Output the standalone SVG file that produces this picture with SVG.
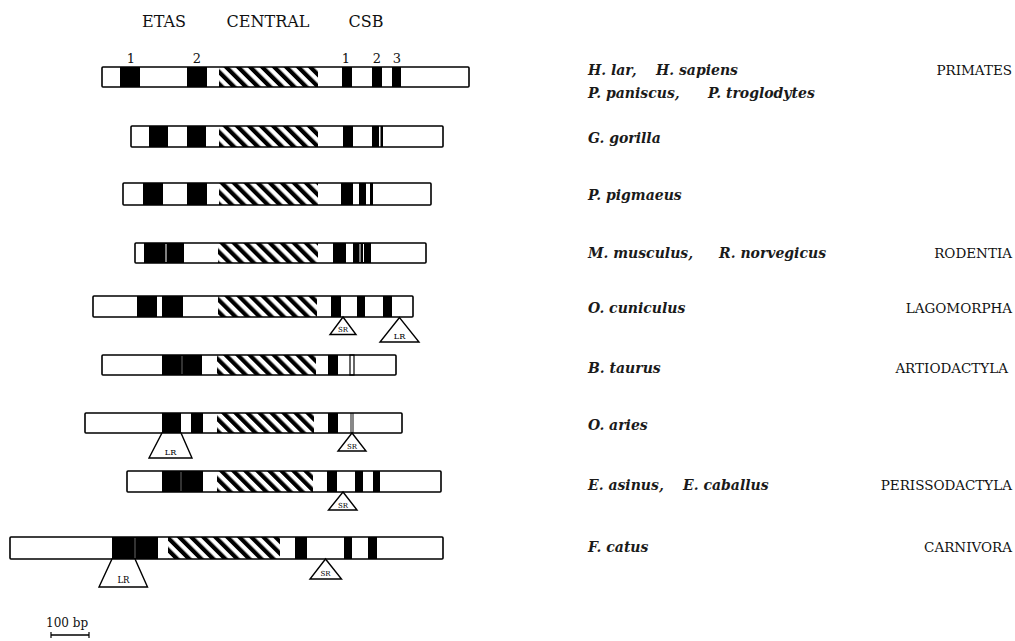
<svg xmlns="http://www.w3.org/2000/svg" width="1015" height="641" viewBox="0 0 1015 641">
  <defs>
    <pattern id="hatch" patternUnits="userSpaceOnUse" width="8.5" height="8.5" patternTransform="rotate(-45)">
      <rect x="0" y="0" width="4.2" height="8.5" fill="#000"/>
    </pattern>
    <style>
      .bar { fill: none; stroke: #000; stroke-width: 1.6; }
      .bg { fill: #fff; }
      .blk { fill: #000; }
      .cen { fill: url(#hatch); }
      .gap { stroke: #fff; stroke-width: 1; }
      .thin { fill: none; stroke: #000; stroke-width: 1.2; }
      .ins { fill: #fff; stroke: #000; stroke-width: 1.4; }
      .ilab { font-family: "DejaVu Serif", "Liberation Serif", serif; fill: #000; text-anchor: middle; }
      .hdr { font-family: "DejaVu Serif", "Liberation Serif", serif; font-size: 16px; fill: #111; text-anchor: middle; }
      .num { font-family: "DejaVu Serif", "Liberation Serif", serif; font-size: 13px; fill: #111; text-anchor: middle; }
      .sp { font-family: "DejaVu Serif", "Liberation Serif", serif; font-size: 14px; font-style: italic; font-weight: bold; fill: #1a1a1a; }
      .ord { font-family: "DejaVu Serif", "Liberation Serif", serif; font-size: 13.5px; fill: #111; text-anchor: end; }
    </style>
  </defs>

  <rect width="1015" height="641" fill="#fff"/>

  <!-- column headers -->
  <g id="headers">
    <text class="hdr" x="164" y="27">ETAS</text>
    <text class="hdr" x="268" y="27">CENTRAL</text>
    <text class="hdr" x="366" y="27">CSB</text>
  </g>

  <!-- primates -->
  <g id="bar-primates">
    <text class="num" x="131" y="63">1</text>
    <text class="num" x="197" y="63">2</text>
    <text class="num" x="346" y="63">1</text>
    <text class="num" x="377" y="63">2</text>
    <text class="num" x="397" y="63">3</text>
    <rect class="bg" x="102" y="67" width="367" height="20"/>
    <rect class="blk" x="120" y="67" width="20" height="20"/>
    <rect class="blk" x="187" y="67" width="20" height="20"/>
    <rect class="cen" x="219" y="67" width="99" height="20"/>
    <rect class="blk" x="342" y="67" width="10" height="20"/>
    <rect class="blk" x="372" y="67" width="10" height="20"/>
    <rect class="blk" x="392" y="67" width="9" height="20"/>
    <rect class="bar" x="102" y="67" width="367" height="20" rx="1"/>
  </g>

  <!-- G. gorilla -->
  <g id="bar-gorilla">
    <rect class="bg" x="131" y="126" width="312" height="21"/>
    <rect class="blk" x="149" y="126" width="19" height="21"/>
    <rect class="blk" x="187" y="126" width="19" height="21"/>
    <rect class="cen" x="219" y="126" width="99" height="21"/>
    <rect class="blk" x="343" y="126" width="10" height="21"/>
    <rect class="blk" x="372" y="126" width="7" height="21"/>
    <rect class="blk" x="380.5" y="126" width="2.5" height="21"/>
    <rect class="bar" x="131" y="126" width="312" height="21" rx="1"/>
  </g>

  <!-- P. pigmaeus -->
  <g id="bar-pigmaeus">
    <rect class="bg" x="123" y="183" width="308" height="22"/>
    <rect class="blk" x="143" y="183" width="20" height="22"/>
    <rect class="blk" x="187" y="183" width="20" height="22"/>
    <rect class="cen" x="219" y="183" width="99" height="22"/>
    <rect class="blk" x="341" y="183" width="12" height="22"/>
    <rect class="blk" x="359" y="183" width="7" height="22"/>
    <rect class="blk" x="370" y="183" width="3" height="22"/>
    <rect class="bar" x="123" y="183" width="308" height="22" rx="1"/>
  </g>

  <!-- rodentia -->
  <g id="bar-rodentia">
    <rect class="bg" x="135" y="243" width="291" height="20"/>
    <rect class="blk" x="144" y="243" width="40" height="20"/>
    <line class="gap" x1="166" y1="244" x2="166" y2="262"/>
    <rect class="cen" x="218" y="243" width="100" height="20"/>
    <rect class="blk" x="333" y="243" width="13" height="20"/>
    <rect class="blk" x="353" y="243" width="18" height="20"/>
    <line class="gap" x1="360" y1="244" x2="360" y2="262"/>
    <line class="gap" x1="363.5" y1="244" x2="363.5" y2="262"/>
    <rect class="bar" x="135" y="243" width="291" height="20" rx="1"/>
  </g>

  <!-- O. cuniculus -->
  <g id="bar-cuniculus">
    <rect class="bg" x="93" y="296" width="320" height="21"/>
    <rect class="blk" x="137" y="296" width="20" height="21"/>
    <rect class="blk" x="162" y="296" width="21" height="21"/>
    <rect class="cen" x="218" y="296" width="99" height="21"/>
    <rect class="blk" x="331" y="296" width="10" height="21"/>
    <rect class="blk" x="357" y="296" width="8" height="21"/>
    <rect class="blk" x="383" y="296" width="9" height="21"/>
    <rect class="bar" x="93" y="296" width="320" height="21" rx="1"/>
    <polygon class="ins" points="343,317 330,334.5 356,334.5"/>
    <text class="ilab" x="343" y="332" font-size="7">SR</text>
    <polygon class="ins" points="399.5,317.5 380,342 419,342"/>
    <text class="ilab" x="399.5" y="339" font-size="8">LR</text>
  </g>

  <!-- B. taurus -->
  <g id="bar-taurus">
    <rect class="bg" x="102" y="355" width="294" height="20"/>
    <rect class="blk" x="162" y="355" width="40" height="20"/>
    <line x1="182" y1="356" x2="182" y2="374" stroke="#666" stroke-width="1"/>
    <rect class="cen" x="217" y="355" width="99" height="20"/>
    <rect class="blk" x="328" y="355" width="10" height="20"/>
    <rect class="thin" x="350" y="355" width="4" height="20"/>
    <rect class="bar" x="102" y="355" width="294" height="20" rx="1"/>
  </g>

  <!-- O. aries -->
  <g id="bar-aries">
    <rect class="bg" x="85" y="413" width="317" height="20"/>
    <rect class="blk" x="162" y="413" width="19" height="20"/>
    <rect class="blk" x="191" y="413" width="12" height="20"/>
    <rect class="cen" x="217" y="413" width="97" height="20"/>
    <rect class="blk" x="328" y="413" width="10" height="20"/>
    <rect x="350" y="413" width="4" height="20" fill="#888"/>
    <rect class="bar" x="85" y="413" width="317" height="20" rx="1"/>
    <polygon class="ins" points="162,433 181,433 192,458 149,458"/>
    <text class="ilab" x="170.5" y="455" font-size="8">LR</text>
    <polygon class="ins" points="352,433 338,451 366,451"/>
    <text class="ilab" x="352" y="448.5" font-size="7">SR</text>
  </g>

  <!-- E. asinus / E. caballus -->
  <g id="bar-equus">
    <rect class="bg" x="127" y="471" width="314" height="21"/>
    <rect class="blk" x="162" y="471" width="41" height="21"/>
    <line x1="181" y1="472" x2="181" y2="491" stroke="#666" stroke-width="1"/>
    <rect class="cen" x="217" y="471" width="96" height="21"/>
    <rect class="blk" x="327" y="471" width="10" height="21"/>
    <rect class="blk" x="355" y="471" width="8" height="21"/>
    <rect class="blk" x="373" y="471" width="7" height="21"/>
    <rect class="bar" x="127" y="471" width="314" height="21" rx="1"/>
    <polygon class="ins" points="343,492 328.5,510 357,510"/>
    <text class="ilab" x="343" y="507.5" font-size="7">SR</text>
  </g>

  <!-- F. catus -->
  <g id="bar-catus">
    <rect class="bg" x="10" y="537" width="433" height="22"/>
    <rect class="blk" x="112" y="537" width="46" height="22"/>
    <line x1="135" y1="538" x2="135" y2="558" stroke="#666" stroke-width="1"/>
    <rect class="cen" x="168" y="537" width="112" height="22"/>
    <rect class="blk" x="295" y="537" width="12" height="22"/>
    <rect class="blk" x="344" y="537" width="8" height="22"/>
    <rect class="blk" x="368" y="537" width="9" height="22"/>
    <rect class="bar" x="10" y="537" width="433" height="22" rx="1"/>
    <polygon class="ins" points="112,559 135,559 147.5,587 99,587"/>
    <text class="ilab" x="123.5" y="583" font-size="8.5">LR</text>
    <polygon class="ins" points="325.5,559 310,579 341.5,579"/>
    <text class="ilab" x="325.5" y="576" font-size="7">SR</text>
  </g>

  <!-- scale bar -->
  <g id="scale">
    <text x="46" y="627" font-family="DejaVu Serif, Liberation Serif, serif" font-size="12" fill="#111">100 bp</text>
    <line x1="51" y1="635" x2="89" y2="635" stroke="#000" stroke-width="1.5"/>
    <line x1="51" y1="632" x2="51" y2="638" stroke="#000" stroke-width="1.2"/>
    <line x1="89" y1="632" x2="89" y2="638" stroke="#000" stroke-width="1.2"/>
  </g>

  <!-- species names -->
  <g id="species">
    <text class="sp" x="588" y="75">H. lar,</text>
    <text class="sp" x="656" y="75">H. sapiens</text>
    <text class="sp" x="588" y="98">P. paniscus,</text>
    <text class="sp" x="708" y="98">P. troglodytes</text>
    <text class="sp" x="588" y="143">G. gorilla</text>
    <text class="sp" x="588" y="200">P. pigmaeus</text>
    <text class="sp" x="588" y="258">M. musculus,</text>
    <text class="sp" x="719" y="258">R. norvegicus</text>
    <text class="sp" x="588" y="313">O. cuniculus</text>
    <text class="sp" x="588" y="373">B. taurus</text>
    <text class="sp" x="588" y="430">O. aries</text>
    <text class="sp" x="588" y="490">E. asinus,</text>
    <text class="sp" x="683" y="490">E. caballus</text>
    <text class="sp" x="588" y="552">F. catus</text>
  </g>

  <!-- orders -->
  <g id="orders">
    <text class="ord" x="1012" y="75">PRIMATES</text>
    <text class="ord" x="1012" y="258">RODENTIA</text>
    <text class="ord" x="1012" y="313">LAGOMORPHA</text>
    <text class="ord" x="1008" y="373">ARTIODACTYLA</text>
    <text class="ord" x="1012" y="490">PERISSODACTYLA</text>
    <text class="ord" x="1012" y="552">CARNIVORA</text>
  </g>
</svg>
